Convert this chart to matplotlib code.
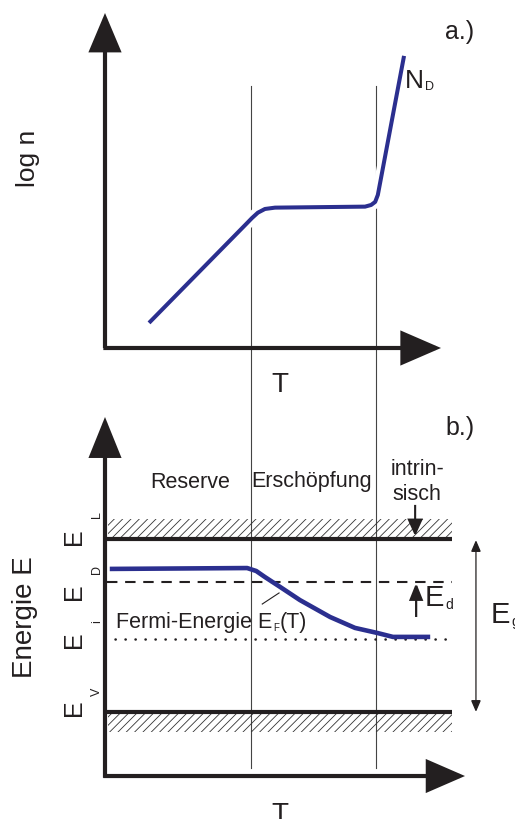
import matplotlib
matplotlib.use("Agg")
from matplotlib import pyplot as plt
import matplotlib.patheffects as pe

plt.rcParams['font.family'] = ['Liberation Sans', 'DejaVu Sans']
plt.rcParams['hatch.linewidth'] = 0.6

# panel a: carrier density vs temperature
T_a = [1.31, 4.20, 4.375, 4.55, 4.76, 5.06, 7.74, 7.92, 8.04, 8.12, 8.90]
logn = [0.75, 3.70, 3.88, 4.04, 4.15, 4.19, 4.22, 4.27, 4.36, 4.57, 8.72]

# panel b: Fermi level vs temperature
T_b = [0.21, 4.23, 4.50, 4.76, 5.21, 5.80, 6.70, 7.44, 8.10, 8.57, 9.61]
E_F = [0.827, 0.832, 0.815, 0.780, 0.723, 0.647, 0.549, 0.486, 0.457, 0.434, 0.434]

# energy levels (E_V = 0, E_L = 1)
E_V, E_L, E_D, E_i = 0.0, 1.0, 0.751, 0.422
band_w = 0.116
T_bounds = [4.345, 8.065]   # Reserve | Erschoepfung | intrinsisch
regions = ['Reserve', 'Erschöpfung']

blue = '#2b2f8f'
W, H = 515, 819

fig = plt.figure(figsize=(W / 100, H / 100), dpi=100)

def fpx(x, y):
    return x / W, 1 - y / H

ax_a = fig.add_axes([105 / W, 1 - 348 / H, 360 / W, 335 / H])
ax_a.set_xlim(0, 10.714)
ax_a.set_ylim(0, 10)
ax_a.axis('off')
ax_a.set_zorder(3)

ax_b = fig.add_axes([105 / W, 1 - 777 / H, 360 / W, 360 / H])
ax_b.set_xlim(0, 10.714)
ax_b.set_ylim(-0.3757, 1.705)
ax_b.axis('off')
ax_b.set_zorder(1)


def arrow(ax, start, end, style, lw, color='#231f20'):
    ax.annotate('', xy=end, xytext=start, annotation_clip=False,
                arrowprops=dict(arrowstyle=style, lw=lw, color=color,
                                shrinkA=0, shrinkB=0, mutation_scale=1,
                                joinstyle='miter', capstyle='butt'))


# axes arrows
arrow(ax_a, (0, 0), (0, 10), '-|>,head_length=23,head_width=9.7', 3)
arrow(ax_a, (-0.05, 0), (10, 0), '-|>,head_length=24,head_width=10.4', 3)
arrow(ax_b, (0, -0.38), (0, 1.705), '-|>,head_length=24,head_width=9.7', 3)
arrow(ax_b, (-0.05, -0.37), (10.714, -0.37), '-|>,head_length=23,head_width=10', 3)

# region boundaries through both panels
for tb in T_bounds:
    ax_b.plot([tb, tb], [-0.324, 3.618], color='#444444', lw=0.8, clip_on=False, zorder=1)

# panel a curve
ax_a.plot(T_a, logn, color=blue, lw=2.9, solid_capstyle='butt', zorder=5,
          path_effects=[pe.Stroke(linewidth=9, foreground='white'), pe.Normal()])

# panel b bands
ax_b.fill_between([0.09, 10.33], E_L, E_L + band_w, facecolor='none',
                  edgecolor='#333333', hatch='////', lw=0)
ax_b.fill_between([0.09, 10.33], E_V - band_w, E_V, facecolor='none',
                  edgecolor='#333333', hatch='////', lw=0)
ax_b.plot([0, 10.33], [E_L, E_L], color='#231f20', lw=3, solid_capstyle='butt', zorder=4)
ax_b.plot([0, 10.33], [E_V, E_V], color='#231f20', lw=3, solid_capstyle='butt', zorder=4)
ax_b.plot([0.05, 10.33], [E_D, E_D], color='#231f20', lw=1.5, dashes=(5, 3.7), zorder=3)
ax_b.plot([0.3, 10.33], [E_i, E_i], color='#231f20', lw=1.8, dashes=(0.1, 3.9),
          dash_capstyle='round', zorder=3)
ax_b.plot(T_b, E_F, color=blue, lw=3.3, zorder=5)

# pointer to Fermi curve
ax_b.plot([4.68, 5.18], [0.624, 0.688], color='#231f20', lw=0.8)

# small arrows
arrow(ax_b, (9.23, 1.197), (9.23, 1.017), '-|>,head_length=10,head_width=4.5', 1.5)
arrow(ax_b, (9.26, 0.549), (9.26, 0.746), '-|>,head_length=10,head_width=4', 1.6)
arrow(ax_b, (11.04, E_V), (11.04, 0.994), '<|-|>,head_length=7,head_width=3', 0.9)

# texts
kw = dict(color='#231f20')
fig.text(*fpx(460, 32), 'a.)', fontsize=18, ha='center', va='center', **kw)
fig.text(*fpx(460, 428), 'b.)', fontsize=18, ha='center', va='center', **kw)
fig.text(*fpx(28, 158), 'log n', fontsize=19, rotation=90, ha='center', va='center', **kw)
fig.text(*fpx(280, 392), 'T', fontsize=20, ha='center', va='baseline', **kw)
fig.text(*fpx(280, 822), 'T', fontsize=20, ha='center', va='baseline', **kw)
fig.text(*fpx(25, 617), 'Energie E', fontsize=20, rotation=90, ha='center', va='center', **kw)

fig.text(*fpx(190, 488), regions[0], fontsize=15.5, ha='center', va='baseline', **kw)
fig.text(*fpx(312, 487), regions[1], fontsize=15.5, ha='center', va='baseline', **kw)
fig.text(*fpx(418, 475), 'intrin-', fontsize=15.5, ha='center', va='baseline', **kw)
fig.text(*fpx(417, 500), 'sisch', fontsize=15.5, ha='center', va='baseline', **kw)

# rotated level labels
for lab, sub, ye, ys in [('E', 'L', 537, 515), ('E', 'D', 592, 570),
                         ('E', 'i', 640, 622), ('E', 'V', 708, 692)]:
    fig.text(*fpx(74, ye), lab, fontsize=18, rotation=90, ha='center', va='center', **kw)
    fig.text(*fpx(97, ys), sub, fontsize=9, rotation=90, ha='center', va='center', **kw)


def sub_label(x, y, main, sub, size, subsize, tail='', dx=0.5):
    t = fig.text(*fpx(x, y), main, fontsize=size, ha='left', va='baseline', **kw)
    s = plt.annotate(sub, xy=(1, 0), xycoords=t, xytext=(dx, 0),
                     textcoords='offset points', fontsize=subsize,
                     ha='left', va='bottom', **kw)
    if tail:
        plt.annotate(tail, xy=(1, 0), xycoords=s, xytext=(0.3, 0),
                     textcoords='offset points', fontsize=size,
                     ha='left', va='bottom', **kw)


sub_label(405, 88, 'N', 'D', 19, 9)
sub_label(425, 606, 'E', 'd', 21, 10)
sub_label(491, 623, 'E', 'g', 21, 10)
sub_label(116, 628, 'Fermi-Energie E', 'F', 15.5, 7, tail='(T)')

fig.savefig('out.png', dpi=100)
